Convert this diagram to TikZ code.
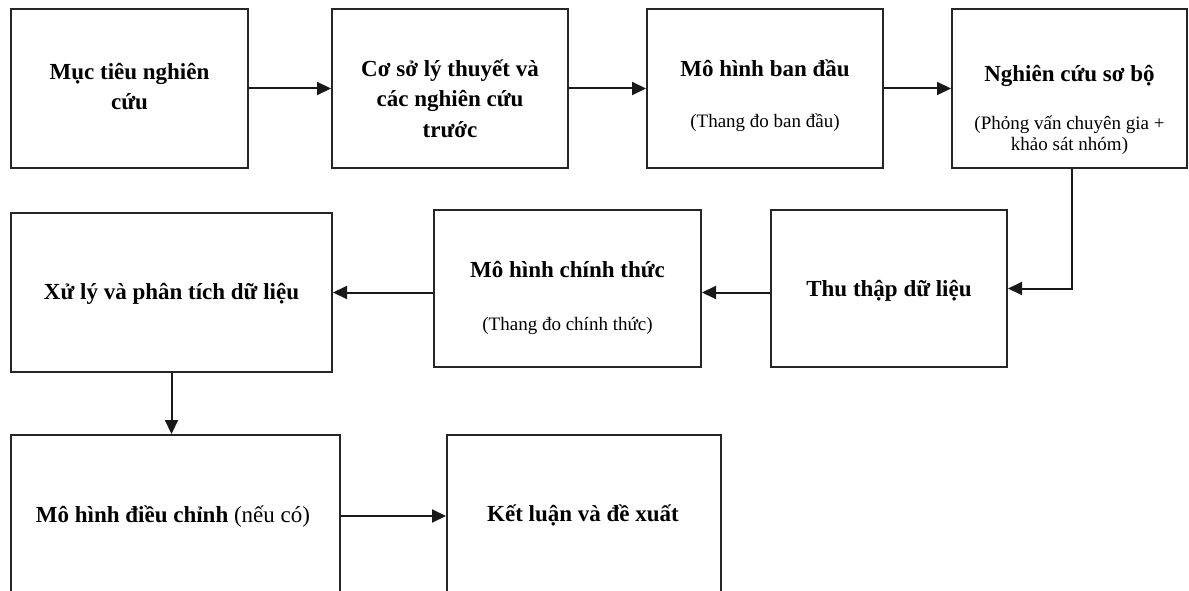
\documentclass[tikz,border=0pt]{standalone}
\usepackage{fontspec}
\setmainfont{Liberation Serif}
\usetikzlibrary{arrows.meta}
\tikzset{
  box/.style={draw=black!85, line width=2pt, inner sep=0pt, fill=none},
  main/.style={anchor=base, inner sep=0pt, font=\fontsize{23}{28}\selectfont\bfseries},
  sub/.style={anchor=base, inner sep=0pt, font=\fontsize{19}{23}\selectfont},
  conn/.style={draw=black!90, line width=2pt, -{Triangle[length=14pt,width=13pt]}}
}
\begin{document}
\begin{tikzpicture}[x=1pt,y=-1pt]
\useasboundingbox (0,0) rectangle (1189,591);
\clip (0,0) rectangle (1189,591);
% boxes
\node[box, minimum width=237pt, minimum height=159pt] (b1) at (129.5,88.5) {};
\node[box, minimum width=236pt, minimum height=159pt] (b2) at (450,88.5) {};
\node[box, minimum width=236pt, minimum height=159pt] (b3) at (765,88.5) {};
\node[box, minimum width=235pt, minimum height=159pt] (b4) at (1069.5,88.5) {};
\node[box, minimum width=236pt, minimum height=157pt] (b5) at (889,288.5) {};
\node[box, minimum width=267pt, minimum height=157pt] (b6) at (567.5,288.5) {};
\node[box, minimum width=321pt, minimum height=159pt] (b7) at (171.5,292.5) {};
\node[box, minimum width=329pt, minimum height=165pt] (b8) at (175.5,517.5) {};
\node[box, minimum width=274pt, minimum height=165pt] (b9) at (584,517.5) {};
% texts
\node[main] (t1a) at (129.5,80) {Mục tiêu nghiên};
\node[main] (t1b) at (129.5,110) {cứu};
\node[main] (t2a) at (450,77) {Cơ sở lý thuyết và};
\node[main] (t2b) at (450,107) {các nghiên cứu};
\node[main] (t2c) at (450,138) {trước};
\node[main] (t3a) at (765,77) {Mô hình ban đầu};
\node[sub]  (t3b) at (765,128) {(Thang đo ban đầu)};
\node[main] (t4a) at (1069.5,82) {Nghiên cứu sơ bộ};
\node[sub]  (t4b) at (1069.5,130) {(Phỏng vấn chuyên gia +};
\node[sub]  (t4c) at (1069.5,150) {khảo sát nhóm)};
\node[main] (t5) at (889,296) {Thu thập dữ liệu};
\node[main] (t6a) at (567.5,277) {Mô hình chính thức};
\node[sub]  (t6b) at (567.5,330) {(Thang đo chính thức)};
\node[main] (t7) at (171.5,299) {Xử lý và phân tích dữ liệu};
\node[main] (t8) at (173,522) {Mô hình điều chỉnh \mdseries(nếu có)};
\node[main] (t9) at (583,521) {Kết luận và đề xuất};
% connectors
\draw[conn] (b1.east) -- (b2.west);
\draw[conn] (b2.east) -- (b3.west);
\draw[conn] (b3.east) -- (b4.west);
\draw[conn] ([xshift=2.5pt]b4.south) |- (b5.east);
\draw[conn] (b5.west |- b7.east) -- (b6.east |- b7.east);
\draw[conn] (b6.west |- b7.east) -- (b7.east);
\draw[conn] (b7.south) -- (b7.south |- b8.north);
\draw[conn] ([yshift=1.5pt]b8.east) -- ([yshift=1.5pt]b9.west);
\end{tikzpicture}
\end{document}
